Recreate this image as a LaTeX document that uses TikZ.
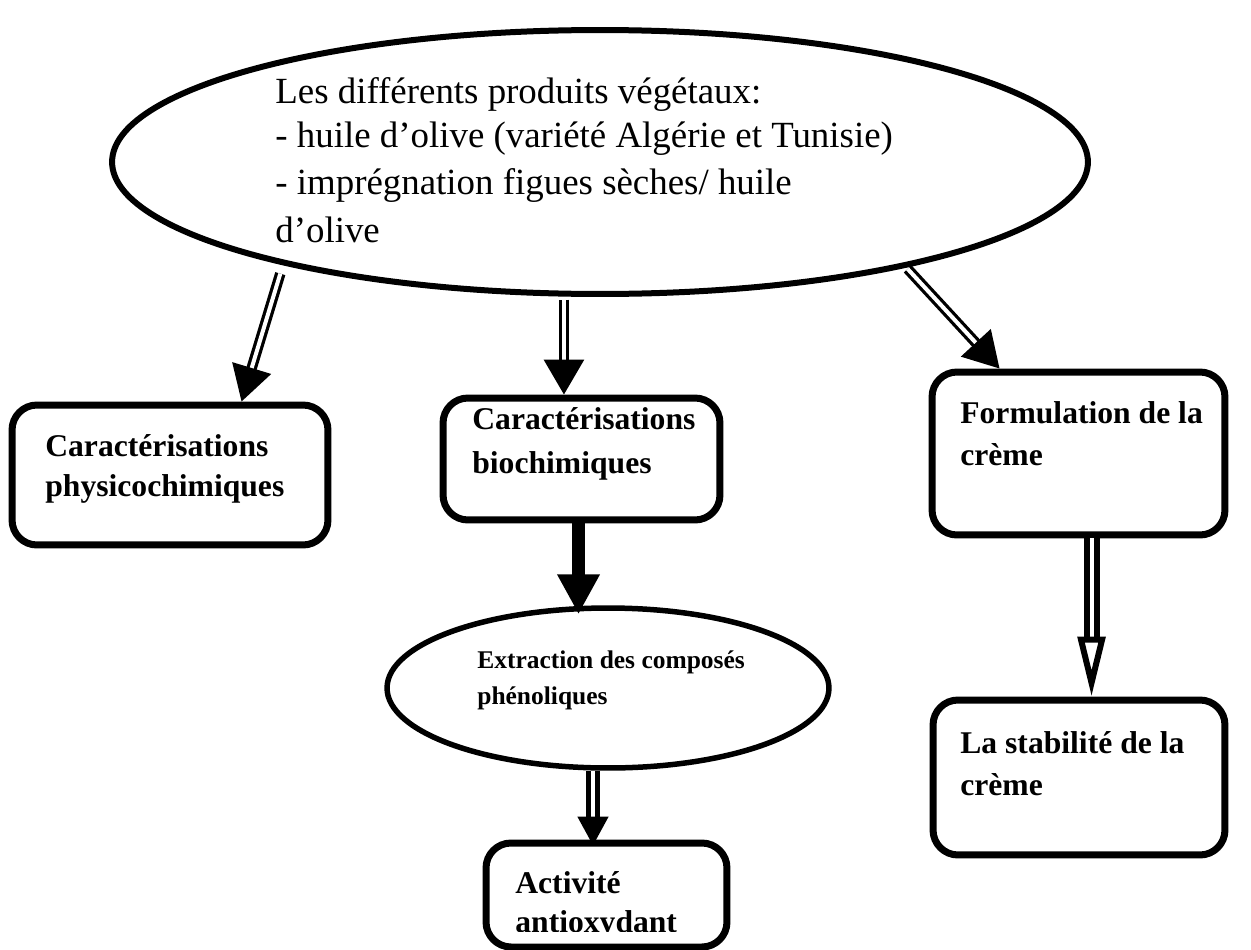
\documentclass[tikz,border=0pt]{standalone}
\usepackage{fontspec}
\setmainfont{Liberation Serif}
\usetikzlibrary{arrows.meta,shapes.geometric,calc}
\begin{document}
\begin{tikzpicture}[x=0.02cm,y=-0.02cm,
  boxnode/.style={draw, rectangle, rounded corners=0.5cm, line width=0.14cm, inner sep=0},
  ovalnode/.style={draw, ellipse, line width=0.12cm, inner sep=0},
  txt/.style={anchor=base west, inner sep=0},
  bigtxt/.style={txt, font=\fontsize{21}{25}\selectfont},
  boldtxt/.style={txt, font=\fontsize{18}{22}\selectfont\bfseries},
  smalltxt/.style={txt, font=\fontsize{14.5}{17}\selectfont\bfseries},
  dbl/.style={draw, double, line width=0.065cm, double distance=0.08cm, -{Triangle[length=0.7cm,width=0.8cm]}},
]
\useasboundingbox (0,0) rectangle (1251,950);

% main ellipse
\node[ovalnode, minimum width=19.52cm, minimum height=5.28cm] (E) at (600,162) {};
\node[bigtxt] (t1) at (275,103) {Les différents produits végétaux:};
\node[bigtxt] (t2) at (275,147) {- huile d’olive (variété Algérie et Tunisie)};
\node[bigtxt] (t3) at (275,194) {- imprégnation figues sèches/ huile};
\node[bigtxt] (t4) at (275,242) {d’olive};

% boxes
\node[boxnode, minimum width=6.32cm, minimum height=2.8cm] (B1) at (170,475) {};
\node[boldtxt] (b1a) at (45,456) {Caractérisations};
\node[boldtxt] (b1b) at (45,496) {physicochimiques};

\node[boxnode, minimum width=5.54cm, minimum height=2.44cm] (B2) at (581.5,459) {};
\node[boldtxt] (b2a) at (472,429) {Caractérisations};
\node[boldtxt] (b2b) at (472,473) {biochimiques};

\node[boxnode, minimum width=5.86cm, minimum height=3.26cm] (B3) at (1078.5,453.5) {};
\node[boldtxt] (b3a) at (960,423) {Formulation de la};
\node[boldtxt] (b3b) at (960,465) {crème};

\node[boxnode, minimum width=5.84cm, minimum height=3.1cm] (B4) at (1079,777.5) {};
\node[boldtxt] (b4a) at (960,753) {La stabilité de la};
\node[boldtxt] (b4b) at (960,795) {crème};

\node[ovalnode, line width=0.11cm, minimum width=8.84cm, minimum height=3.2cm] (E2) at (608,688) {};
\node[smalltxt] (e2a) at (477,668) {Extraction des composés};
\node[smalltxt] (e2b) at (477,704) {phénoliques};

\node[boxnode, minimum width=4.82cm, minimum height=2.08cm] (B5) at (606.5,895) {};
\node[boldtxt] (b5a) at (515,893) {Activité};
\begin{scope}
\clip (490,900) rectangle (720,931);
\node[boldtxt] (b5b) at (515,932) {antioxydant};
\end{scope}

% connectors
\draw[dbl, shorten <=0.18cm] (E.198.2) -- ($(B1.north west)+(233,0)$);
\draw[dbl, shorten <=0.06cm] (E.255.5) -- (E.255.5 |- B2.north);
\draw[dbl, shorten <=0.04cm] (E.341.7) -- ($(B3.north west)+(71,0)$);

\coordinate (a4s) at ($(B2.south west)+(139,0)$);
\draw[line width=0.26cm, -{Triangle[length=0.8cm,width=0.8cm]}, shorten >=-0.18cm] (a4s) -- (a4s |- E2.north);

\coordinate (a5s) at ($(B3.south west)+(163,0)$);
\draw[double, line width=0.12cm, double distance=0.08cm, -{Triangle[open, length=1.2cm, width=0.54cm]}] (a5s) -- (a5s |- B4.north);

\coordinate (a6s) at ($(E2.south)+(-15,0)$);
\draw[double, line width=0.1cm, double distance=0.08cm, -{Triangle[length=0.58cm, width=0.6cm]}, shorten >=-0.12cm] (a6s) -- (a6s |- B5.north);
\end{tikzpicture}
\end{document}
